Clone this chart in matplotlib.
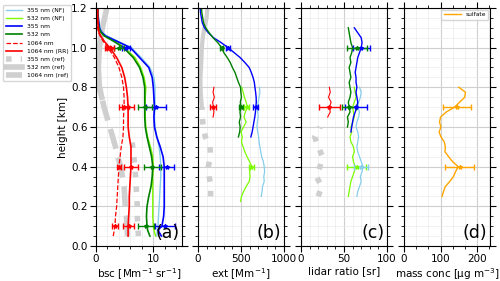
import numpy as np
import matplotlib
matplotlib.use('Agg')
import matplotlib.pyplot as plt
from matplotlib.ticker import MultipleLocator, AutoMinorLocator

# ---------------- panel (a): backscatter ----------------
h_a = [0.05, 0.08, 0.10, 0.15, 0.20, 0.25, 0.30, 0.35, 0.40, 0.45, 0.50, 0.55, 0.60, 0.65,
       0.70, 0.75, 0.80, 0.85, 0.90, 0.95, 1.00, 1.03, 1.06, 1.08, 1.10, 1.15, 1.20]
bsc355 = [11.4, 10.8, 11.5, 11.8, 11.9, 11.9, 11.9, 11.9, 11.9, 11.7, 11.2, 10.6, 10.2, 10.1,
          10.2, 10.1, 10.0, 9.8, 9.2, 7.6, 6.0, 3.8, 1.6, 0.9, 0.6, 0.4, 0.3]
bsc355_nf = [10.6, 10.7, 10.8, 10.9, 11.0, 11.1, 11.2, 11.3, 11.3, 11.2, 11.0, 10.6, 10.3, 10.2,
             10.3, 10.3, 10.3, 10.1, 9.4, 7.9, 6.2, 4.0, 1.8, 1.0, 0.7, 0.4, 0.3]
bsc532 = [9.4, 9.0, 8.9, 8.8, 8.9, 9.2, 9.6, 9.8, 9.9, 9.7, 9.3, 8.9, 8.6, 8.5,
          8.5, 8.5, 8.5, 8.2, 7.6, 6.5, 4.8, 3.2, 1.4, 0.8, 0.5, 0.3, 0.3]
bsc532_nf = [10.4, 10.1, 10.0, 9.9, 9.9, 9.9, 9.9, 9.9, 10.0, 9.9, 9.5, 9.0, 8.7, 8.6,
             8.6, 8.6, 8.7, 8.4, 7.8, 6.8, 5.0, 3.4, 1.5, 0.9, 0.5, 0.3, 0.3]
bsc1064 = [3.0, 3.2, 3.3, 3.4, 3.6, 3.7, 3.8, 3.9, 4.0, 4.2, 4.4, 4.7, 4.8, 4.8,
           4.9, 4.9, 4.8, 4.5, 4.0, 3.2, 2.1, 1.3, 0.7, 0.4, 0.3, 0.2, 0.2]
bsc1064_rr = [5.6, 5.6, 5.6, 5.7, 5.8, 5.8, 5.9, 6.0, 6.1, 6.1, 6.1, 5.8, 5.6, 5.6,
              5.6, 5.5, 5.3, 5.0, 4.5, 3.6, 2.4, 1.5, 0.8, 0.5, 0.4, 0.3, 0.3]

h_ref355_a = [0.05, 0.10, 0.15, 0.20, 0.25, 0.30, 0.35, 0.40, 0.45, 0.50, 0.55]
ref355_a = [7.4, 7.3, 7.2, 7.2, 7.1, 7.0, 6.9, 6.8, 6.6, 6.4, 6.2]
h_ref532_a = [0.75, 0.80, 0.85, 0.90, 0.95, 1.00, 1.05, 1.10, 1.15, 1.20]
ref532_a = [1.0, 0.6, 0.5, 0.4, 0.5, 0.6, 0.8, 1.1, 1.5, 1.9]
h_ref1064_a = [0.05, 0.10, 0.15, 0.20, 0.25, 0.30, 0.35, 0.40, 0.45, 0.50, 0.55, 0.60,
               0.65, 0.70, 0.75, 0.80]
ref1064_a = [5.5, 5.4, 5.3, 5.1, 5.0, 4.9, 4.6, 4.3, 3.8, 3.4, 2.9, 2.4, 1.9, 1.4, 1.0, 0.6]

h_err_a = [0.1, 0.4, 0.7, 1.0]
err355_a = ([12.0, 12.3, 10.5, 5.3], [1.7, 1.3, 1.7, 0.7])
err532_a = ([8.8, 9.8, 8.6, 4.0], [1.4, 1.5, 1.2, 0.9])
err1064_a = ([3.3, 4.0, 4.8, 2.0], [0.5, 0.4, 0.8, 0.4])
err1064rr_a = ([5.7, 6.1, 5.6, 2.6], [1.0, 1.2, 1.0, 0.6])

# ---------------- panel (b): extinction ----------------
h_hi = [0.55, 0.575, 0.6, 0.625, 0.65, 0.675, 0.7, 0.725, 0.75, 0.775, 0.8, 0.825, 0.85, 0.875,
        0.9, 0.925, 0.95, 0.975, 1.0, 1.025, 1.05, 1.075, 1.1, 1.125, 1.15, 1.175, 1.2]
ext355 = [615, 630, 640, 650, 660, 668, 672, 678, 676, 670, 662, 655, 640, 620,
          595, 545, 490, 420, 350, 270, 180, 120, 75, 50, 40, 30, 25]
ext532 = [470, 485, 490, 480, 495, 488, 500, 492, 505, 498, 495, 470, 450, 430,
          400, 375, 340, 300, 275, 230, 175, 130, 90, 65, 55, 45, 40]
h_lo_g = [0.225, 0.25, 0.275, 0.3, 0.325, 0.35, 0.375, 0.4, 0.425, 0.45, 0.475, 0.5, 0.525,
          0.55, 0.575, 0.6, 0.625, 0.65, 0.675, 0.7, 0.725, 0.75, 0.775, 0.8]
ext532_nf = [495, 505, 530, 560, 595, 605, 600, 625, 600, 570, 545, 525, 505,
             515, 500, 530, 560, 535, 550, 575, 560, 540, 525, 510]
h_lo_b = [0.25, 0.275, 0.3, 0.325, 0.35, 0.375, 0.4, 0.425, 0.45, 0.475, 0.5, 0.525,
          0.55, 0.575, 0.6, 0.625, 0.65, 0.675, 0.7, 0.725, 0.75, 0.775, 0.8]
ext355_nf = [735, 745, 750, 770, 765, 775, 770, 760, 740, 730, 720, 710,
             705, 695, 685, 690, 700, 695, 690, 700, 710, 720, 715]
h_red = [0.65, 0.675, 0.7, 0.725, 0.75, 0.775, 0.8]
ext1064 = [175, 185, 180, 170, 190, 175, 185]
h_ref355_b = [0.25, 0.3, 0.35, 0.4, 0.45, 0.5, 0.55, 0.6, 0.65, 0.7]
ref355_b = [145, 150, 130, 120, 145, 140, 85, 60, 50, 45]
h_ref532_b = [0.7, 0.75, 0.8, 0.85, 0.9, 0.95, 1.0, 1.05, 1.1, 1.15, 1.2]
ref532_b = [45, 35, 30, 28, 35, 40, 45, 55, 75, 100, 110]

err355_b = ([0.7, 1.0], [670, 350], [30, 25])
err532_b = ([0.7, 1.0], [500, 275], [20, 20])
err532nf_b = ([0.4, 0.7], [620, 565], [30, 30])
err1064_b = ([0.7], [180], [35])

# ---------------- panel (c): lidar ratio ----------------
h_c_g = [0.6, 0.625, 0.65, 0.675, 0.7, 0.725, 0.75, 0.775, 0.8, 0.825, 0.85, 0.875,
         0.9, 0.925, 0.95, 0.975, 1.0, 1.025, 1.05, 1.075, 1.1]
lr532 = [54, 55, 54, 57, 56, 55, 57, 58, 57, 56, 58, 57,
         56, 58, 57, 59, 60, 58, 57, 56, 55]
h_c_b = [0.575, 0.6, 0.625, 0.65, 0.675, 0.7, 0.725, 0.75, 0.775, 0.8, 0.825, 0.85,
         0.875, 0.9, 0.925, 0.95, 0.975, 1.0, 1.025, 1.05, 1.075, 1.1]
lr355 = [58, 59, 60, 61, 63, 65, 66, 65, 64, 65, 64, 64,
         63, 64, 65, 66, 68, 70, 71, 70, 66, 62]
lr532_nf = [55, 56, 57, 58, 60, 62, 63, 61, 60, 62, 61, 58,
            57, 59, 58, 60, 62, 61, 60, 62, 64, 63, 62]
lr355_nf = [65, 66, 68, 70, 69, 71, 72, 70, 68, 66, 65, 66,
            67, 66, 64, 65, 67, 68, 66, 67, 69, 70, 68]
lr1064 = [31, 34, 33, 35, 32, 34, 33]
h_ref355_c = [0.25, 0.3, 0.35, 0.4, 0.45, 0.5, 0.55, 0.6]
ref355_c = [20, 24, 18, 22, 25, 20, 16, 22]

err355_c = ([0.7, 1.0], [64, 70], [13, 10])
err532_c = ([0.7, 1.0], [56, 65], [8, 12])
err532nf_c = ([0.4], [65], [11])
err355nf_c = ([0.4], [70], [8])
err1064_c = ([0.7], [33], [12])

# ---------------- panel (d): mass concentration ----------------
h_d = [0.25, 0.275, 0.3, 0.325, 0.35, 0.375, 0.4, 0.425, 0.45, 0.475, 0.5, 0.525,
       0.55, 0.575, 0.6, 0.625, 0.65, 0.675, 0.7, 0.725, 0.75, 0.775, 0.8]
mass = [104, 108, 113, 125, 135, 141, 148, 133, 122, 112, 113, 110,
        101, 96, 101, 97, 100, 115, 138, 152, 166, 168, 150]
err_mass = ([0.4, 0.7], [152, 145], [40, 38])

C355NF, C532NF = 'skyblue', 'lawngreen'
C355, C532, C1064 = 'blue', 'green', 'red'
CREF = '#cfcfcf'

plt.rcParams['font.size'] = 7.5
fig = plt.figure(figsize=(5.0, 2.81), dpi=100)
W, H, B = 0.172, 0.847, 0.1246
lefts = [0.192, 0.396, 0.602, 0.808]
axes = [fig.add_axes([l, B, W, H]) for l in lefts]


def ebar(ax, y, x, xe, c):
    ax.errorbar(x, y, xerr=xe, fmt='*', color=c, ms=3, capsize=2.5, elinewidth=1, capthick=1)


# (a)
ax = axes[0]
ax.plot(ref355_a, h_ref355_a, ':', color=CREF, lw=4, label='355 nm (ref)', zorder=1)
ax.plot(ref532_a, h_ref532_a, '-', color=CREF, lw=4, label='532 nm (ref)', zorder=1)
ax.plot(ref1064_a, h_ref1064_a, '--', color=CREF, lw=4, label='1064 nm (ref)', zorder=1)
ax.plot(bsc355_nf, h_a, color=C355NF, lw=1, label='355 nm (NF)')
ax.plot(bsc532_nf, h_a, color=C532NF, lw=1, label='532 nm (NF)')
ax.plot(bsc355, h_a, color=C355, lw=1.2, label='355 nm')
ax.plot(bsc532, h_a, color=C532, lw=1.2, label='532 nm')
ax.plot(bsc1064, h_a, '--', color=C1064, lw=0.9, label='1064 nm')
ax.plot(bsc1064_rr, h_a, color=C1064, lw=1.2, label='1064 nm (RR)')
ebar(ax, h_err_a, *err355_a, C355)
ebar(ax, h_err_a, *err532_a, C532)
ebar(ax, h_err_a, *err1064_a, C1064)
ebar(ax, h_err_a, *err1064rr_a, C1064)
ax.set_xlim(0, 15)
ax.xaxis.set_major_locator(MultipleLocator(10))
ax.xaxis.set_minor_locator(MultipleLocator(2))
ax.set_xlabel('bsc [Mm$^{-1}$ sr$^{-1}$]', labelpad=1.5)
ax.set_ylabel('height [km]', labelpad=2)

handles, labels = ax.get_legend_handles_labels()
order = ['355 nm (NF)', '532 nm (NF)', '355 nm', '532 nm', '1064 nm', '1064 nm (RR)',
         '355 nm (ref)', '532 nm (ref)', '1064 nm (ref)']
hmap = dict(zip(labels, handles))
fig.legend([hmap[k] for k in order], order, loc='upper left', bbox_to_anchor=(0.004, 0.985),
           fontsize=4.3, frameon=True, handlelength=2.8, borderaxespad=0.2)

# (b)
ax = axes[1]
ax.plot(ref355_b, h_ref355_b, ':', color=CREF, lw=4, zorder=1)
ax.plot(ref532_b, h_ref532_b, '-', color=CREF, lw=3, zorder=1)
ax.plot(ext355_nf, h_lo_b, color=C355NF, lw=0.9)
ax.plot(ext532_nf, h_lo_g, color=C532NF, lw=0.9)
ax.plot(ext355, h_hi, color=C355, lw=1)
ax.plot(ext532, h_hi, color=C532, lw=1)
ax.plot(ext1064, h_red, color=C1064, lw=0.8)
for e, c in [(err355_b, C355), (err532_b, C532), (err532nf_b, C532NF), (err1064_b, C1064)]:
    ebar(ax, e[0], e[1], e[2], c)
ax.set_xlim(0, 1000)
ax.xaxis.set_major_locator(MultipleLocator(500))
ax.xaxis.set_minor_locator(MultipleLocator(100))
ax.set_xlabel('ext [Mm$^{-1}$]', labelpad=1.5)

# (c)
ax = axes[2]
ax.plot(ref355_c, h_ref355_c, ':', color=CREF, lw=4, zorder=1)
ax.plot(lr355_nf, h_lo_b, color=C355NF, lw=0.9)
ax.plot(lr532_nf, h_lo_b, color=C532NF, lw=0.9)
ax.plot(lr532, h_c_g, color=C532, lw=1)
ax.plot(lr355, h_c_b, color=C355, lw=1)
ax.plot(lr1064, h_red, color=C1064, lw=0.8)
for e, c in [(err355_c, C355), (err532_c, C532), (err532nf_c, C532NF),
             (err355nf_c, C355NF), (err1064_c, C1064)]:
    ebar(ax, e[0], e[1], e[2], c)
ax.set_xlim(0, 100)
ax.xaxis.set_major_locator(MultipleLocator(50))
ax.xaxis.set_minor_locator(MultipleLocator(10))
ax.set_xlabel('lidar ratio [sr]', labelpad=1.5)

# (d)
ax = axes[3]
ax.plot(mass, h_d, color='orange', lw=1, label='sulfate')
ebar(ax, err_mass[0], err_mass[1], err_mass[2], 'orange')
ax.set_xlim(0, 235)
ax.xaxis.set_major_locator(MultipleLocator(100))
ax.xaxis.set_minor_locator(AutoMinorLocator(3))
ax.set_xlabel('mass conc [µg m$^{-3}$]', labelpad=1.5)
ax.legend(loc='upper right', fontsize=4.3, handlelength=2.8, borderaxespad=0.3)

for ax, lab in zip(axes, ['(a)', '(b)', '(c)', '(d)']):
    ax.set_ylim(0, 1.2)
    ax.yaxis.set_major_locator(MultipleLocator(0.2))
    ax.yaxis.set_minor_locator(MultipleLocator(0.05))
    ax.grid(True, which='major', color='#cfcfcf', lw=0.8)
    ax.grid(True, which='minor', color='#ebebeb', lw=0.5)
    ax.set_axisbelow(True)
    ax.tick_params(which='both', direction='out', top=True, right=True, pad=2)
    ax.tick_params(which='major', length=4)
    ax.tick_params(which='minor', length=2)
    if ax is not axes[0]:
        ax.set_yticklabels([])
    ax.text(0.97, 0.015, lab, transform=ax.transAxes, ha='right', va='bottom', fontsize=12.5)

fig.savefig('out.png', dpi=100)
